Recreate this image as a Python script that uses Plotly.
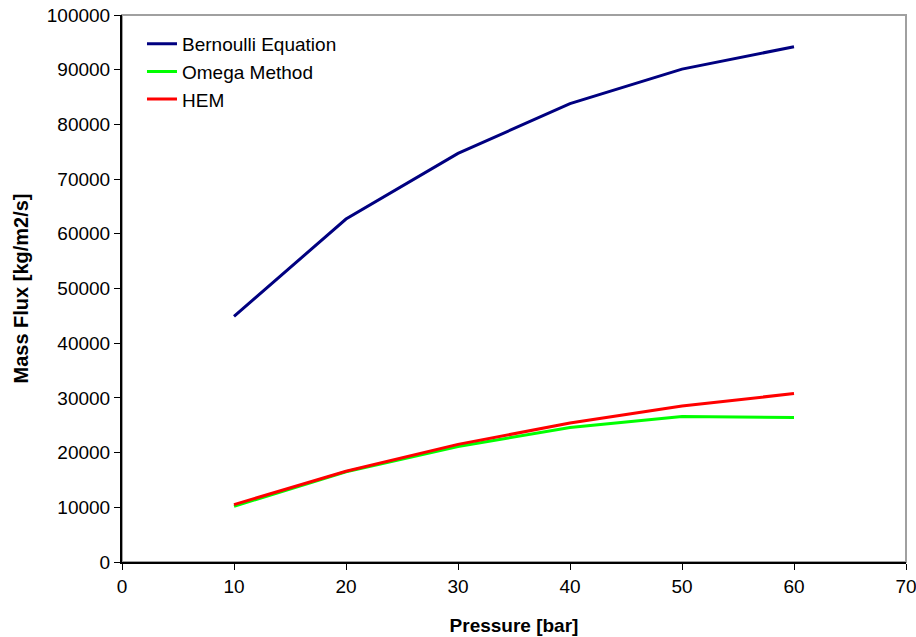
import plotly.graph_objects as go

pressure = [10, 20, 30, 40, 50, 60]
bernoulli = [44900, 62700, 74700, 83800, 90100, 94200]
omega = [10200, 16500, 21100, 24600, 26600, 26400]
hem = [10500, 16600, 21500, 25400, 28500, 30800]

fig = go.Figure()
fig.add_trace(go.Scatter(x=pressure, y=bernoulli, mode="lines", name="Bernoulli Equation",
                         line=dict(color="#000080", width=3)))
fig.add_trace(go.Scatter(x=pressure, y=omega, mode="lines", name="Omega Method",
                         line=dict(color="#00ff00", width=3)))
fig.add_trace(go.Scatter(x=pressure, y=hem, mode="lines", name="HEM",
                         line=dict(color="#ff0000", width=3)))

fig.add_shape(type="rect", xref="paper", yref="paper", x0=0, x1=1, y0=0, y1=1,
              line=dict(color="#a0a0a0", width=2), layer="below")

font = "Liberation Sans, Arial, sans-serif"
fig.update_layout(
    width=916, height=637,
    margin=dict(l=122, r=10, t=15, b=75, autoexpand=False),
    paper_bgcolor="white", plot_bgcolor="white",
    font=dict(family=font, size=19, color="black"),
    showlegend=True,
    legend=dict(x=0.0255, y=0.982, xanchor="left", yanchor="top",
                bgcolor="rgba(0,0,0,0)", font=dict(size=19), tracegroupgap=0),
    xaxis=dict(range=[0, 70], tickvals=[0, 10, 20, 30, 40, 50, 60, 70],
               showgrid=False, zeroline=False, showline=True, linecolor="black",
               linewidth=2, ticks="outside", ticklen=6, tickcolor="black",
               ticklabeloverflow="allow", automargin=False,
               title=dict(text="<b>Pressure [bar]</b>", font=dict(size=19), standoff=23),
               tickfont=dict(size=19)),
    yaxis=dict(range=[0, 100000], tickvals=list(range(0, 100001, 10000)),
               tickformat="d",
               showgrid=False, zeroline=False, showline=True, linecolor="black",
               linewidth=2, ticks="outside", ticklen=6, tickcolor="black",
               ticklabeloverflow="allow", automargin=False,
               title=dict(text="<b>Mass Flux [kg/m2/s]</b>", font=dict(size=20), standoff=13),
               tickfont=dict(size=19)),
)

fig.write_html("out.html", config={"displayModeBar": False},
               post_script="document.body.style.margin='0px';")
